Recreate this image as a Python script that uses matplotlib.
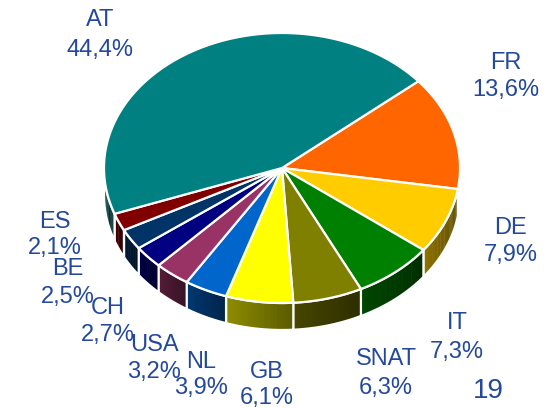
import numpy as np
import matplotlib
matplotlib.use("Agg")
import matplotlib.pyplot as plt
from matplotlib.colors import to_rgb

plt.rcParams['font.family'] = ['Liberation Sans', 'DejaVu Sans']

# slices, clockwise from the AT/FR boundary
countries = ["FR", "DE", "IT", "SNAT", "GB", "NL", "USA", "CH", "BE", "ES", "AT"]
shares = [13.6, 7.9, 7.3, 6.3, 6.1, 3.9, 3.2, 2.7, 2.5, 2.1, 44.4]
pct_labels = ["13,6%", "7,9%", "7,3%", "6,3%", "6,1%", "3,9%", "3,2%", "2,7%", "2,5%", "2,1%", "44,4%"]
colors = ["#ff6600", "#ffcc00", "#008000", "#808000", "#ffff00", "#0066cc",
          "#993366", "#000080", "#003366", "#800000", "#008080"]
# label positions (pixel coords, name line / percent line)
label_xy = [(506, 63, 90), (511, 228, 255), (457, 323, 352), (386, 359, 388),
            (267, 372, 398), (201, 362, 388), (154, 345, 372), (108, 308, 335),
            (68, 269, 297), (55, 222, 248), (100, 20, 50)]
page_no = "19"

cx, cy, a, b, depth = 282, 168, 178, 135, 27
start = 40.0
txt_col = "#23489c"

fig = plt.figure(figsize=(5.52, 4.08), dpi=100)
ax = fig.add_axes([0, 0, 1, 1])
ax.set_xlim(0, 552)
ax.set_ylim(408, 0)
ax.axis("off")


def pt(t):
    r = np.radians(t)
    return cx + a * np.cos(r), cy - b * np.sin(r)


bounds = start - np.concatenate([[0], np.cumsum(shares)]) * 3.6

# sides (front half only, angles 180..360)
for i, col in enumerate(colors):
    t_hi, t_lo = bounds[i] % 360, bounds[i + 1] % 360
    if t_hi <= t_lo:
        t_hi += 360
    segs = []
    for lo, hi in [(t_lo, t_hi), (t_lo - 360, t_hi - 360)]:
        s, e = max(lo, 180), min(hi, 360)
        if e > s:
            segs.append((s, e))
    base = np.array(to_rgb(col))
    for s, e in segs:
        n = max(int(e - s), 2)
        ts = np.linspace(s, e, n + 1)
        for k in range(n):
            f = 0.55 - 0.2 * (k / n)
            tt = np.linspace(ts[k], ts[k + 1] + 0.3, 4)
            x, y = pt(tt)
            xs = np.concatenate([x, x[::-1]])
            ys = np.concatenate([y, y[::-1] + depth])
            ax.fill(xs, ys, color=base * f, lw=0)
        tt = np.linspace(s, e, 60)
        x, y = pt(tt)
        xs = np.concatenate([x, x[::-1]])
        ys = np.concatenate([y, y[::-1] + depth])
        ax.fill(xs, ys, facecolor="none", edgecolor="white", lw=1.6)

# top faces
for i, col in enumerate(colors):
    tt = np.linspace(bounds[i], bounds[i + 1], 200)
    x, y = pt(tt)
    xs = np.concatenate([[cx], x])
    ys = np.concatenate([[cy], y])
    ax.fill(xs, ys, facecolor=col, edgecolor="white", lw=1.6)

for name, pct, (x, y1, y2) in zip(countries, pct_labels, label_xy):
    ax.text(x, y1, name, ha="center", va="center", fontsize=17, color=txt_col)
    ax.text(x, y2, pct, ha="center", va="center", fontsize=17, color=txt_col)

ax.text(488, 391, page_no, ha="center", va="center", fontsize=20, color=txt_col)

fig.savefig("out.png", dpi=100)
